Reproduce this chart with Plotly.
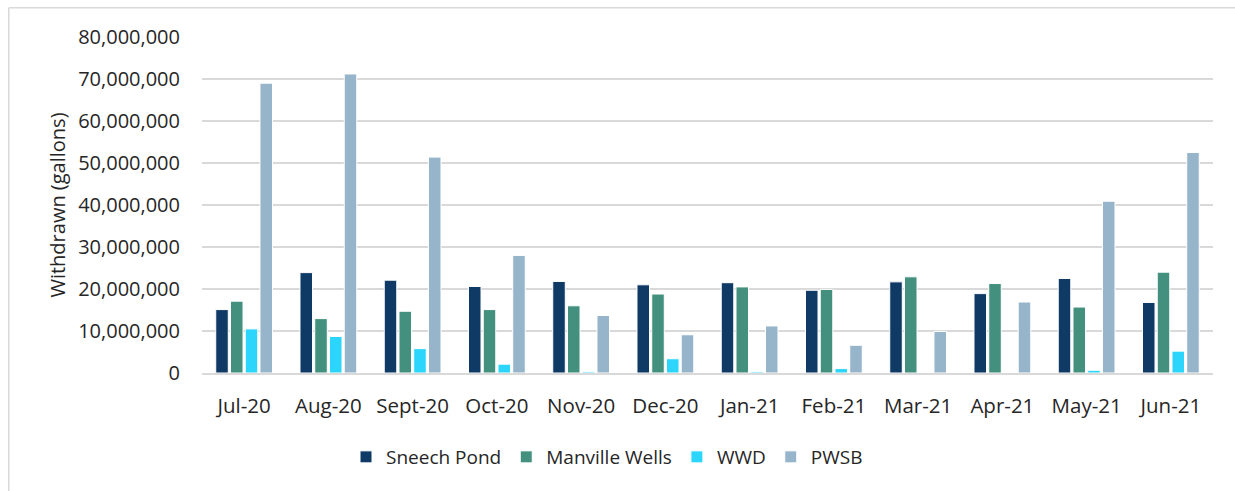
import plotly.graph_objects as go

months = ["Jul-20", "Aug-20", "Sept-20", "Oct-20", "Nov-20", "Dec-20",
          "Jan-21", "Feb-21", "Mar-21", "Apr-21", "May-21", "Jun-21"]

sneech_pond = [15100000, 23900000, 22100000, 20600000, 21800000, 21000000,
               21500000, 19700000, 21700000, 18900000, 22500000, 16800000]
manville_wells = [17100000, 12950000, 14700000, 15100000, 16000000, 18800000,
                  20500000, 19900000, 22900000, 21300000, 15700000, 24000000]
wwd = [10500000, 8700000, 5800000, 2100000, 300000, 3400000,
       300000, 1050000, 0, 0, 650000, 5200000]
pwsb = [69000000, 71200000, 51400000, 28000000, 13700000, 9100000,
        11200000, 6600000, 9900000, 16900000, 40900000, 52500000]

series_names = ["Sneech Pond", "Manville Wells", "WWD", "PWSB"]
series_values = [sneech_pond, manville_wells, wwd, pwsb]
series_colors = ["#0f3a66", "#44907e", "#2bd5fb", "#97b5ca"]

y_ticks = [0, 10000000, 20000000, 30000000, 40000000, 50000000, 60000000, 70000000, 80000000]

FONT = "Open Sans"
TXT = "#262626"

fig = go.Figure()
for name, vals, col in zip(series_names, series_values, series_colors):
    fig.add_trace(go.Bar(
        x=months, y=vals, name=name,
        marker=dict(color=col, line=dict(color="white", width=1)),
    ))

# page body margin is removed via post_script, so figure pixels == page pixels
W, H = 1235, 491
L, R, T, B = 202, 22, 37, 491 - 373
pw, ph = W - L - R, H - T - B

def px2x(px):
    return (px - L) / pw

def px2y(py):
    return (H - B - py) / ph

fig.update_layout(
    width=W, height=H,
    margin=dict(l=L, r=R, t=T, b=B),
    paper_bgcolor="white", plot_bgcolor="white",
    barmode="group", bargap=0.3, bargroupgap=0.15,
    font=dict(family=FONT, size=18, color=TXT),
    showlegend=True,
    legend=dict(orientation="h", x=px2x(607), xanchor="center",
                y=px2y(457), yanchor="middle",
                font=dict(family=FONT, size=19, color=TXT),
                itemwidth=30, traceorder="normal"),
    xaxis=dict(showgrid=False, showline=True, linecolor="#d9d9d9", linewidth=1.5,
               tickfont=dict(family=FONT, size=20.5, color=TXT),
               ticks="", ticklabelstandoff=14),
    yaxis=dict(range=[0, 80000000], tickvals=y_ticks,
               tickformat=",d", showgrid=True, gridcolor="#d9d9d9", gridwidth=1.5,
               zeroline=False, showline=False,
               tickfont=dict(family=FONT, size=20, color=TXT),
               ticklabelstandoff=21,
               title=dict(text="Withdrawn (gallons)",
                          font=dict(family=FONT, size=20, color=TXT),
                          standoff=7)),
    shapes=[
        dict(type="line", xref="paper", yref="paper",
             x0=px2x(8.75), x1=px2x(8.75), y0=px2y(7.75), y1=px2y(520),
             line=dict(color="#d9d9d9", width=1.5), layer="below"),
        dict(type="line", xref="paper", yref="paper",
             x0=px2x(8.75), x1=px2x(1260), y0=px2y(7.75), y1=px2y(7.75),
             line=dict(color="#d9d9d9", width=1.5), layer="below"),
    ],
)

fig.write_html(
    "out.html",
    config={"displayModeBar": False},
    post_script="document.body.style.margin='0';document.body.style.overflow='hidden';",
)
